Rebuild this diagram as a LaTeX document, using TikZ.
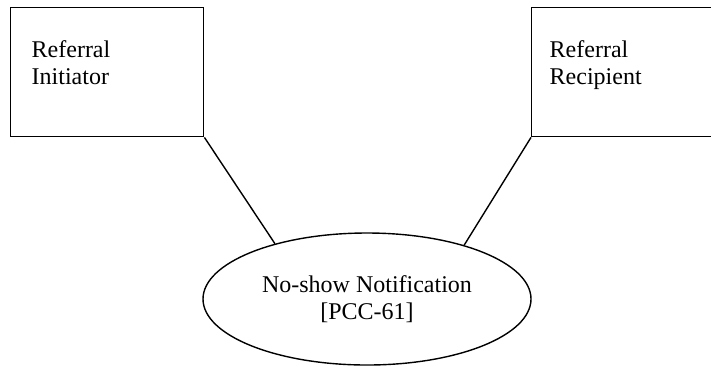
\documentclass[tikz,border=0pt]{standalone}
\usepackage{fontspec}
\setmainfont{Liberation Serif}
\usetikzlibrary{shapes.geometric}

\begin{document}
\begin{tikzpicture}[x=0.5pt,y=-0.5pt,line width=0.7pt,
        actor/.style={draw,rectangle,anchor=north west,inner sep=0pt},
        txt/.style={anchor=north west,align=left,inner sep=0pt,font=\fontsize{12}{13.5}\selectfont},
        usecase/.style={draw,ellipse,inner sep=0pt,minimum width=164pt,minimum height=66pt,
            align=center,font=\fontsize{12}{13.5}\selectfont}]
        \useasboundingbox (0,0) rectangle (711,366);

        \node[actor,minimum width=96.5pt,minimum height=64.5pt](initiator) at (10,7){};
        \node[txt](initiatorTxt) at (31,40){Referral\\Initiator};

        \node[actor,minimum width=91pt,minimum height=64.5pt](recipient) at (531,7){};
        \node[txt](recipientTxt) at (549,40){Referral\\Recipient};

        \node[usecase](noshow) at (367,299){No-show Notification\\{}[PCC-61]};

        \draw(initiator.south east)--(noshow.149);
        \draw(recipient.south west)--(noshow.29);
    \end{tikzpicture}
\end{document}
